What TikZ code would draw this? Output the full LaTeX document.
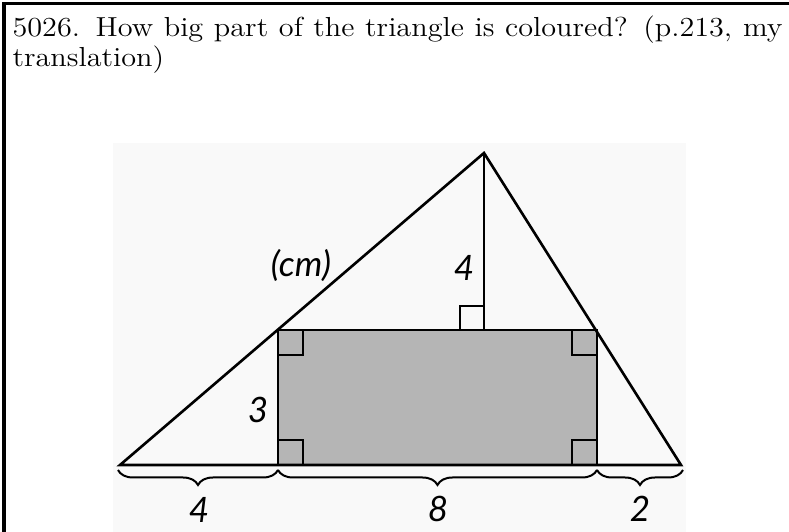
\documentclass[tikz,border=0pt]{standalone}
\usepackage{fontspec}
\newfontfamily\labelfont{Lato}
\usetikzlibrary{positioning,calc,decorations.pathreplacing}
\definecolor{scanbg}{RGB}{249,249,249}
\definecolor{shadegray}{RGB}{181,181,181}

\tikzset{
  edge/.style={line width=1.05pt, line join=miter},
  rightmark/.style={line width=0.55pt},
  dimlabel/.style={font=\labelfont\itshape\fontsize{14}{16}\selectfont, inner sep=0pt},
  basebrace/.style={decorate, decoration={brace, mirror, amplitude=6pt}, line width=0.8pt}
}

\begin{document}
\begin{tikzpicture}[x=0.4pt, y=-0.4pt]
  \useasboundingbox (0,0) rectangle (789,532);
  \clip (0,0) rectangle (789,532);

  % Frame round the exercise
  \draw[line width=1.2pt] (4,600) -- (4,4) -- (840,4);

  % Scanned page behind the figure
  \fill[scanbg] (113,143) rectangle (686,532);

  % Exercise text
  \node[anchor=north west, inner sep=0pt, text width=280pt, align=justify, xscale=1.1,
        font=\fontsize{11}{12.3}\selectfont]
    (title) at (12,15) {\hyphenpenalty=10000 5026. How big part of the triangle is coloured? (p.213, my translation)};

  % Triangle and rectangle corners
  \coordinate (A) at (120,465);
  \coordinate (B) at (484,153);
  \coordinate (C) at (681,465);
  \coordinate (P) at (278,330);
  \coordinate (Q) at (597,330);
  \coordinate (R) at (597,465);
  \coordinate (S) at (278,465);
  \coordinate (H) at (484,330);

  % Coloured rectangle
  \filldraw[fill=shadegray, line width=0.8pt] (P) rectangle (R);

  % Triangle with its height
  \draw[edge] (A) -- (B) -- (C) -- cycle;
  \draw[line width=0.7pt] (B) -- (H);

  % Right angles
  \foreach \c/\dx/\dy in {P/25/25, Q/-25/25, S/25/-25, R/-25/-25}
    \draw[rightmark] ($(\c)+(0,\dy)$) -| ($(\c)+(\dx,0)$);
  \draw[rightmark] ($(H)+(-24,0)$) |- ($(H)+(0,-24)$);

  % Braces under the base
  \draw[basebrace] ($(A)+(-2,5)$) -- ($(S)+(0,5)$);
  \draw[basebrace] ($(S)+(0,5)$) -- ($(R)+(0,5)$);
  \draw[basebrace] ($(R)+(0,5)$) -- ($(C)+(2,5)$);

  % Measures
  \node[dimlabel] (unit) at (301,265) {(cm)};
  \node[dimlabel] (hgt) at (464,268) {4};
  \node[dimlabel] (side) at (258,410) {3};
  \node[dimlabel] (left) at (199,510) {4};
  \node[dimlabel] (mid) at (438,509) {8};
  \node[dimlabel] (right) at (640,509) {2};
\end{tikzpicture}
\end{document}
